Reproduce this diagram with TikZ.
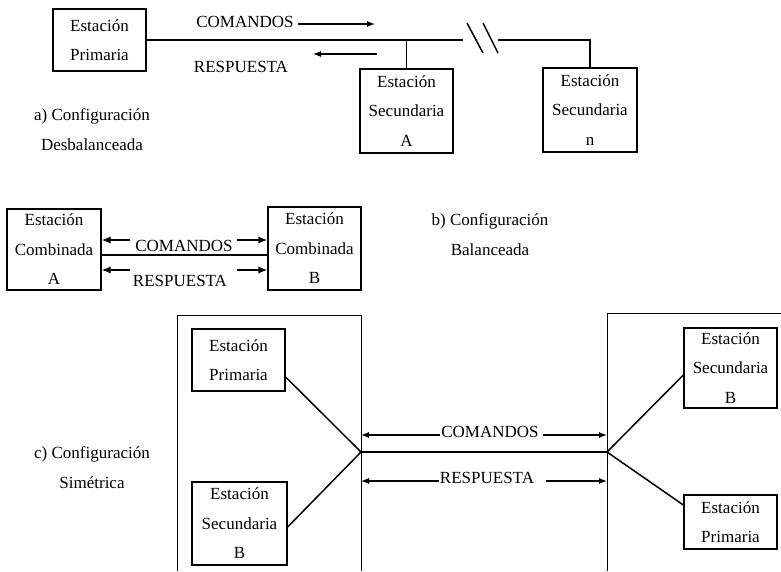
\documentclass[tikz,border=0pt]{standalone}
\usepackage{fontspec}
\setmainfont{Liberation Serif}
\newfontfamily\timesf{Liberation Serif}
\usetikzlibrary{arrows.meta}
\newcommand{\txtf}{\timesf\fontsize{17}{29.5}\selectfont}
\tikzset{
  stn/.style={draw, line width=1.3pt, inner sep=0pt, align=center, font=\txtf},
  lbl/.style={inner sep=0pt, align=center, font=\txtf},
  wire/.style={line width=1.5pt},
  frame/.style={line width=0.6pt},
  arr/.style={line width=1.1pt, -{Latex[length=8pt,width=6pt]}},
  barr/.style={line width=1.8pt, -{Latex[length=9pt,width=7.5pt]}},
}
\begin{document}
\begin{tikzpicture}[x=1pt,y=-1pt]
\useasboundingbox (0,0) rectangle (781,571);

% ---------- a) Desbalanceada ----------
\node[stn, minimum width=93pt, minimum height=62pt] (pp) at (99.5,40) {Estación\\Primaria};
\node[stn, minimum width=93pt, minimum height=84pt] (sa) at (406.5,111) {Estación\\Secundaria\\A};
\node[stn, minimum width=94pt, minimum height=84pt] (sn) at (590,110) {Estación\\Secundaria\\n};
\coordinate (brkL) at (463,40);
\coordinate (brkR) at (498,40);
\draw[wire] (pp.east) -- (brkL);
\draw[wire] (brkR) -- (brkR -| sn.north) -- (sn.north);
\draw[wire] (sa.north |- pp.east) -- (sa.north);
\draw[wire] (467,23) -- (483,53);
\draw[wire] (483,23) -- (498,53);

\node[lbl] (ca) at (245,22) {COMANDOS};
\coordinate (caend) at (375,24);
\draw[arr] ([xshift=4pt]ca.east |- caend) -- (caend);
\node[lbl] (ra) at (241,67) {RESPUESTA};
\coordinate (rastart) at (377,54);
\coordinate (raend) at (313,54);
\draw[arr] (rastart) -- (raend);

\node[lbl] (la) at (92,129.5) {a) Configuración\\Desbalanceada};

% ---------- b) Balanceada ----------
\node[stn, minimum width=94pt, minimum height=81pt] (cba) at (54,249.5) {Estación\\Combinada\\A};
\node[stn, minimum width=93pt, minimum height=83pt] (cbb) at (314.5,248.5) {Estación\\Combinada\\B};
\coordinate (mid) at (0,255);
\draw[wire] (cba.east |- mid) -- (cbb.west |- mid);
\coordinate (u) at (0,240);
\coordinate (d) at (0,270);
\coordinate (bl) at (130,0);
\coordinate (br) at (237,0);
\draw[barr] (bl |- u) -- (cba.east |- u);
\draw[barr] (br |- u) -- (cbb.west |- u);
\draw[barr] (bl |- d) -- (cba.east |- d);
\draw[barr] (br |- d) -- (cbb.west |- d);
\node[lbl] (cb) at (184,246) {COMANDOS};
\node[lbl] (rb) at (180,281) {RESPUESTA};

\node[lbl] (lb) at (490,234.5) {b) Configuración\\Balanceada};

% ---------- c) Simétrica ----------
\draw[frame] (177,571) -- (177,315) -- (361,315) -- (361,571);
\draw[frame] (607,571) -- (607,313) -- (781,313);

\node[stn, minimum width=93pt, minimum height=62pt] (lp) at (238.5,360) {Estación\\Primaria};
\node[stn, minimum width=95pt, minimum height=83pt] (ls) at (239.5,523.5) {Estación\\Secundaria\\B};
\node[stn, minimum width=93pt, minimum height=80pt] (rs) at (730.5,368) {Estación\\Secundaria\\B};
\node[stn, minimum width=93pt, minimum height=54pt] (rp) at (730.5,522) {Estación\\Primaria};

\coordinate (jl) at (361,452);
\coordinate (jr) at (607,452);
\draw[wire] (jl) -- (jr);
\draw[wire] ([yshift=-17pt]lp.east) -- (jl);
\draw[wire] ([yshift=-3.5pt]ls.east) -- (jl);
\draw[wire] (jr) -- ([yshift=-7pt]rs.west);
\draw[wire] (jr) -- ([yshift=17pt]rp.west);

\node[lbl] (cc) at (490,432) {COMANDOS};
\node[lbl] (rc) at (487,478) {RESPUESTA};
\coordinate (cy) at (0,435);
\coordinate (ry) at (0,481);
\draw[arr] ([xshift=-1pt]cc.west |- cy) -- (jl |- cy);
\draw[arr] ([xshift=4pt]cc.east |- cy) -- (jr |- cy);
\draw[arr] ([xshift=-1pt]rc.west |- ry) -- (jl |- ry);
\draw[arr] ([xshift=12pt]rc.east |- ry) -- (jr |- ry);

\node[lbl] (lc) at (92,467.5) {c) Configuración\\Simétrica};
\end{tikzpicture}
\end{document}
